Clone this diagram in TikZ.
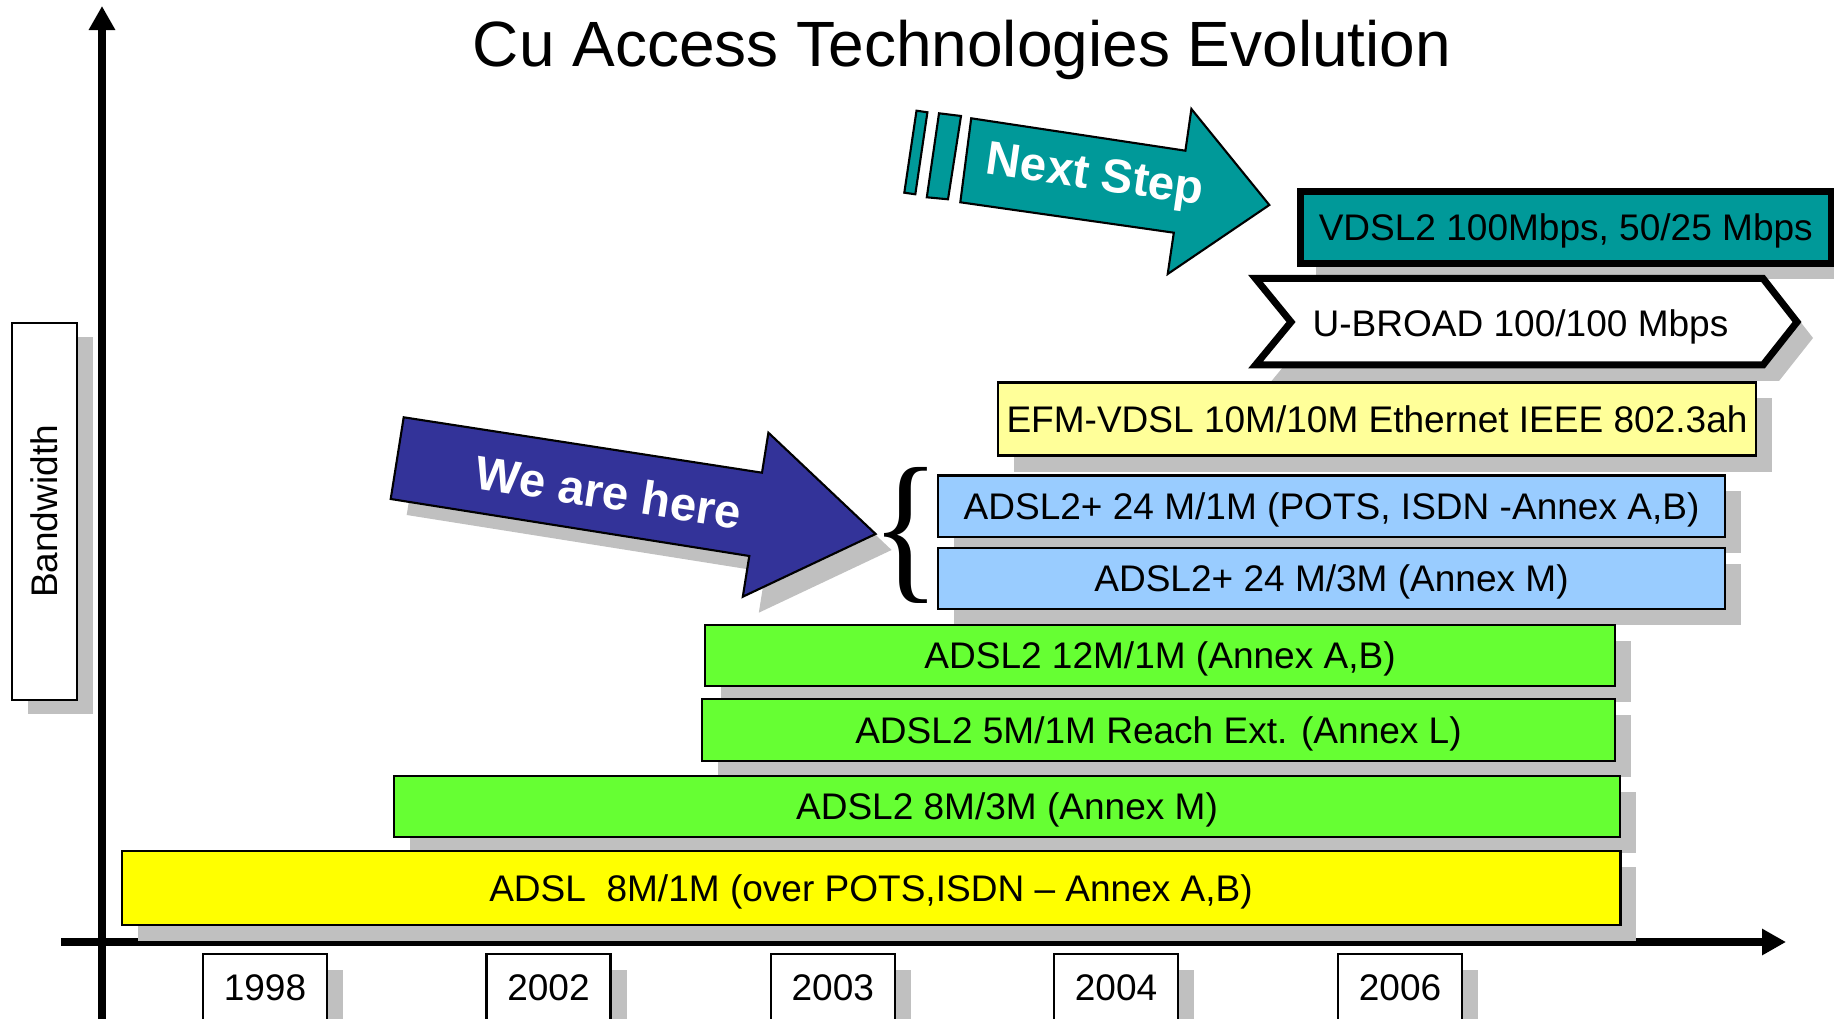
\documentclass[tikz,border=0pt]{standalone}
\usepackage{graphicx}
\usepackage{fontspec}
\setmainfont{Liberation Sans}
\newfontfamily\braceserif{Liberation Serif}
\usetikzlibrary{arrows.meta,shadows}
\definecolor{tealA}{HTML}{009999}
\definecolor{navyA}{HTML}{333399}
\definecolor{ltyel}{HTML}{FFFF99}
\definecolor{ltblue}{HTML}{99CCFF}
\definecolor{grnA}{HTML}{66FF33}
\definecolor{yelA}{HTML}{FFFF00}
\definecolor{shd}{HTML}{C0C0C0}
\begin{document}
\begin{tikzpicture}[x=0.01cm,y=-0.01cm,
 txt/.style={font=\fontsize{10.53}{12.6}\selectfont, inner sep=0pt, text height=0.265cm, text depth=0pt},
 bar/.style={txt, draw=black, line width=0.6pt},
 sh/.style={drop shadow={shadow xshift=0.16cm, shadow yshift=-0.16cm, fill=shd, draw=none, opacity=1}},
 yrbox/.style={draw=black, line width=0.6pt, fill=white, minimum width=1.24cm, minimum height=1cm, inner sep=0pt, sh},
 arrtxt/.style={font=\bfseries\fontsize{13.5}{16}\selectfont, text=white, inner sep=0pt},
 axisline/.style={line width=2.3pt, -{Triangle[length=0.24cm,width=0.25cm]}}
]
\useasboundingbox (0,0) rectangle (1834,1019);
\clip (0,0) rectangle (1834,1019);

% axes
\coordinate (vb) at (102,1040);
\coordinate (vt) at (102,6);
\coordinate (hl) at (61,942);
\coordinate (hr) at (1786,942);
\draw[axisline] (vb) -- (vt);
\draw[axisline] (hl) -- (hr);

% title
\node[font=\fontsize{18.2}{22}\selectfont, anchor=base, inner sep=0pt] (title) at (962,66.7) {Cu Access Technologies Evolution};

% bandwidth box
\node[draw=black, line width=0.6pt, fill=white, minimum width=0.65cm, minimum height=3.77cm, inner sep=0pt,
      drop shadow={shadow xshift=0.16cm, shadow yshift=-0.14cm, fill=shd, draw=none, opacity=1}] (bw) at (44.5,511.5) {};
\node[txt, rotate=90] (bwt) at (bw.center) {Bandwidth};

% Next Step arrow
\draw[fill=tealA, line width=0.6pt] (916.5,110.7) -- (927.4,112.3) -- (915.3,194.3) -- (904.3,192.7) -- cycle;
\draw[fill=tealA, line width=0.6pt] (939,113.3) -- (961,116) -- (948,199.3) -- (926.8,197.3) -- cycle;
\draw[fill=tealA, line width=0.6pt] (971.2,118.3) -- (1185.4,150.7) -- (1191.4,109) -- (1269.3,205) -- (1167.7,274) -- (1173.8,232.7) -- (960.3,202.3) -- cycle;
\node[arrtxt, rotate=-8.2] (nst) at (1095,178) {Next Step};

% VDSL2 box
\node[txt, draw=black, line width=1.99pt, fill=tealA, minimum width=5.305cm, minimum height=0.71cm, sh] (vdsl) at (1565.75,227.5) {VDSL2 100Mbps, 50/25 Mbps};

% U-BROAD chevron
\fill[shd, shift={(16,16)}] (1255.5,278.5) -- (1763,278.5) -- (1797,322) -- (1763,365) -- (1255.5,365) -- (1291,322) -- cycle;
\draw[fill=white, line width=1.99pt] (1255.5,278.5) -- (1763,278.5) -- (1797,322) -- (1763,365) -- (1255.5,365) -- (1291,322) -- cycle;
\node[txt] (ubroad) at (1520.5,323) {U-BROAD 100/100 Mbps};

% bars
\node[bar, fill=ltyel, minimum width=7.57cm, minimum height=0.73cm, sh] (efm) at (1377,419) {EFM-VDSL 10M/10M Ethernet IEEE 802.3ah};
\node[bar, fill=ltblue, minimum width=7.87cm, minimum height=0.615cm, sh] (a2pa) at (1331.5,506.25) {ADSL2+ 24 M/1M (POTS, ISDN -Annex A,B)};
\node[bar, fill=ltblue, minimum width=7.87cm, minimum height=0.61cm, sh] (a2pm) at (1331.5,578.5) {ADSL2+ 24 M/3M (Annex M)};
\node[bar, fill=grnA, minimum width=9.10cm, minimum height=0.61cm, sh] (a2ab) at (1160,655.5) {ADSL2 12M/1M (Annex A,B)};
\node[bar, fill=grnA, minimum width=9.13cm, minimum height=0.62cm, sh] (a2l) at (1158.5,730) {ADSL2 5M/1M Reach Ext. (Annex L)};
\node[bar, fill=grnA, minimum width=12.26cm, minimum height=0.61cm, sh] (a2m) at (1007,806.5) {ADSL2 8M/3M (Annex M)};
\node[bar, fill=yelA, minimum width=14.98cm, minimum height=0.74cm, sh] (adsl) at (871,888) {ADSL\ \ 8M/1M (over POTS,ISDN -- Annex A,B)};

% We are here arrow
\fill[shd, shift={(16,16)}] (403.7,417.3) -- (762,472.7) -- (768.4,432.7) -- (875.6,534) -- (742.8,596.7) -- (749.3,556) -- (390.7,499) -- cycle;
\draw[fill=navyA, line width=0.6pt] (403.7,417.3) -- (762,472.7) -- (768.4,432.7) -- (875.6,534) -- (742.8,596.7) -- (749.3,556) -- (390.7,499) -- cycle;
\node[arrtxt, rotate=-8.8] (wah) at (609,492) {We are here};

% brace
\node[inner sep=0pt, anchor=base west, font=\braceserif\fontsize{43.9}{50}\selectfont] (brace) at (871,581) {\scalebox{0.93}[1.065]{\{}};

% years
\node[yrbox] (b1998) at (265,1004) {};
\node[yrbox] (b2002) at (548.5,1004) {};
\node[yrbox] (b2003) at (832.75,1004) {};
\node[yrbox] (b2004) at (1116,1004) {};
\node[yrbox] (b2006) at (1400,1004) {};
\node[txt] (t1998) at (265,987.5) {1998};
\node[txt] (t2002) at (548.5,987.5) {2002};
\node[txt] (t2003) at (832.75,987.5) {2003};
\node[txt] (t2004) at (1116,987.5) {2004};
\node[txt] (t2006) at (1400,987.5) {2006};
\end{tikzpicture}
\end{document}
